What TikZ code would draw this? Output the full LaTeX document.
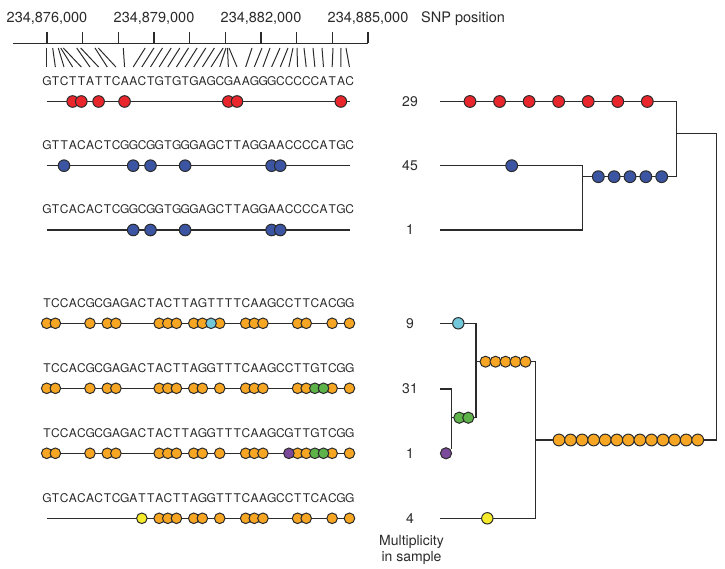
\documentclass[tikz,border=0pt]{standalone}
\usepackage{fontspec}
\setmainfont{TeX Gyre Heros}
\usepackage{tikz}

\definecolor{ink}{HTML}{2B2B2B}
\definecolor{snpred}{HTML}{E8262B}
\definecolor{snpblue}{HTML}{3B55A3}
\definecolor{snporange}{HTML}{F6A623}
\definecolor{snpcyan}{HTML}{72C7DB}
\definecolor{snpgreen}{HTML}{5DB34A}
\definecolor{snppurple}{HTML}{7B4A9B}
\definecolor{snpyellow}{HTML}{F5EB2A}

\def\seqloop#1{\ifx#1\relax\else\makebox[8.65pt]{#1}\expandafter\seqloop\fi}
\newcommand\seqtext[1]{\expandafter\seqloop#1\relax}

\begin{document}
\begin{tikzpicture}
[x=1pt,y=-1pt,
 br/.style={draw=ink,line width=1.5pt},
 sn/.style={draw=ink,line width=1pt},
 snpdot/.style={draw=ink,line width=1pt,fill=#1},
 seq/.style={anchor=base west,inner sep=0pt,font=\fontsize{12}{14}\selectfont,text=ink},
 lab/.style={inner sep=0pt,font=\fontsize{14.5}{17}\selectfont,text=ink},
 mult/.style={inner sep=0pt,font=\fontsize{14}{16.7}\selectfont,text=ink}]
\useasboundingbox (0,0) rectangle (725,569);

% position axis
\coordinate (ax0) at (13,43.5);
\coordinate (ax1) at (368,43.5);
\draw[br] (ax0) -- (ax1);
\foreach \t in {0,...,9}
  \draw[br] ({47+35.67*\t},43.5) -- ++(0,-11.5);
\foreach \t/\v in {0/876,3/879,6/882,9/885}
  \node[lab,anchor=base] (p\v) at ({47+35.67*\t},22.7) {234,\v,000};
\node[lab,anchor=base west] (snp) at (421,22.7) {SNP position};

\foreach \i/\u in {0/46.7,1/52.7,2/58.3,3/60.7,4/63.3,5/76.7,6/80.7,7/95,8/98.3,
  9/123.3,10/145.2,11/153.9,12/162.5,13/171.2,14/179.8,15/188.5,16/197.1,
  17/205.8,18/214.4,19/223.1,20/226,21/227.5,22/229,23/252,24/262,25/270,
  26/280,27/288,28/293,29/297,30/304,31/313,32/322,33/333,34/341,35/346}
  \draw[sn] ({46.7+8.65*\i},67) -- (\u,48);

% haplotypes
\foreach \r/\yy/\s in {1/101.5/GTCTTATTCAACTGTGTGAGCGAAGGGCCCCCATAC,
  2/165.7/GTTACACTCGGCGGTGGGAGCTTAGGAACCCCATGC,
  3/230/GTCACACTCGGCGGTGGGAGCTTAGGAACCCCATGC,
  4/323.3/TCCACGCGAGACTACTTAGTTTTCAAGCCTTCACGG,
  5/388.3/TCCACGCGAGACTACTTAGGTTTCAAGCCTTGTCGG,
  6/453.3/TCCACGCGAGACTACTTAGGTTTCAAGCGTTGTCGG,
  7/518.3/GTCACACTCGATTACTTAGGTTTCAAGCCTTCACGG}{
  \coordinate (w\r) at (46.7,\yy);
  \coordinate (e\r) at (349.5,\yy);
  \draw[br] (w\r) -- (e\r);
  \node[seq] (q\r) at (42.4,\yy-16.3) {\seqtext{\s}};
}

\foreach \i in {3,4,6,9,21,22,34}
  \filldraw[snpdot=snpred] ({46.7+8.65*\i},101.5) circle[radius=5.8pt];
\foreach \i in {2,10,12,16,26,27}
  \filldraw[snpdot=snpblue] ({46.7+8.65*\i},165.7) circle[radius=5.8pt];
\foreach \i in {10,12,16,26,27}
  \filldraw[snpdot=snpblue] ({46.7+8.65*\i},230) circle[radius=5.8pt];
\foreach \yy in {323.3,388.3,453.3}
  \foreach \i in {0,1,5,7,8,13,14,15,17,18,20,23,24,25,29,30,33,35}
    \filldraw[snpdot=snporange] ({46.7+8.65*\i},\yy) circle[radius=5.3pt];
\foreach \i in {13,14,15,17,18,20,23,24,25,29,30,33,35}
  \filldraw[snpdot=snporange] ({46.7+8.65*\i},518.3) circle[radius=5.3pt];
\filldraw[snpdot=snpcyan] ({46.7+8.65*19},323.3) circle[radius=5.3pt];
\foreach \yy in {388.3,453.3}
  \foreach \i in {31,32}
    \filldraw[snpdot=snpgreen] ({46.7+8.65*\i},\yy) circle[radius=5.3pt];
\filldraw[snpdot=snppurple] ({46.7+8.65*28},453.3) circle[radius=5.3pt];
\filldraw[snpdot=snpyellow] ({46.7+8.65*11},518.3) circle[radius=5.3pt];

% multiplicities
\foreach \n/\yy in {29/101.5,45/165.7,1/230,9/323.3,31/389,1/453.3,4/518.3}
  \node[mult] (m\n\yy) at (410,\yy) {\n};
\node[mult,anchor=base] (mu1) at (411.5,545) {Multiplicity};
\node[mult,anchor=base] (mu2) at (411.5,561.7) {in sample};

% tree
\coordinate (a29) at (440,101.5);
\coordinate (b29) at (676.7,101.5);
\coordinate (bb) at (676.7,176.7);
\coordinate (ba) at (582.3,176.7);
\coordinate (a45) at (440,165.7);
\coordinate (b45) at (582.3,165.7);
\coordinate (a1) at (440,230);
\coordinate (b1) at (582.3,230);
\coordinate (r0) at (676.7,133.3);
\coordinate (r1) at (716.7,133.3);
\coordinate (r2) at (716.7,440);
\coordinate (oa) at (535.7,440);
\coordinate (a9) at (440,323.3);
\coordinate (b9) at (476,323.3);
\coordinate (ga) at (451.7,417.7);
\coordinate (gb) at (476,417.7);
\coordinate (a31) at (440,389);
\coordinate (b31) at (451.7,389);
\coordinate (c31) at (451.7,449);
\coordinate (pu) at (446,453.3);
\coordinate (fa) at (476,361.7);
\coordinate (fb) at (535.7,361.7);
\coordinate (a4) at (440,518.3);
\coordinate (b4) at (535.7,518.3);

\draw[br] (a29) -- (b29) -- (bb) -- (ba);
\draw[br] (a45) -- (b45) -- (b1) -- (a1);
\draw[br] (r0) -- (r1) -- (r2) -- (oa);
\draw[br] (a9) -- (b9) -- (gb) -- (ga);
\draw[br] (a31) -- (b31) -- (c31);
\draw[br] (fa) -- (fb) -- (b4) -- (a4);

\foreach \k in {0,...,6}
  \filldraw[snpdot=snpred] ({470+29.55*\k},101.5) circle[radius=5.9pt];
\filldraw[snpdot=snpblue] (511.7,165.7) circle[radius=5.9pt];
\foreach \k in {0,...,4}
  \filldraw[snpdot=snpblue] ({598.3+15.85*\k},176.7) circle[radius=5.9pt];
\filldraw[snpdot=snpcyan] (458.3,323.3) circle[radius=5.7pt];
\foreach \k in {0,...,4}
  \filldraw[snpdot=snporange] ({485.5+10*\k},361.7) circle[radius=5.5pt];
\foreach \k in {0,1}
  \filldraw[snpdot=snpgreen] ({459.3+9*\k},417.7) circle[radius=5.6pt];
\filldraw[snpdot=snppurple] (pu) circle[radius=5.6pt];
\filldraw[snpdot=snpyellow] (487.3,518.3) circle[radius=5.7pt];
\foreach \k in {0,...,12}
  \filldraw[snpdot=snporange] ({559+11.56*\k},440) circle[radius=5.9pt];

\end{tikzpicture}
\end{document}
